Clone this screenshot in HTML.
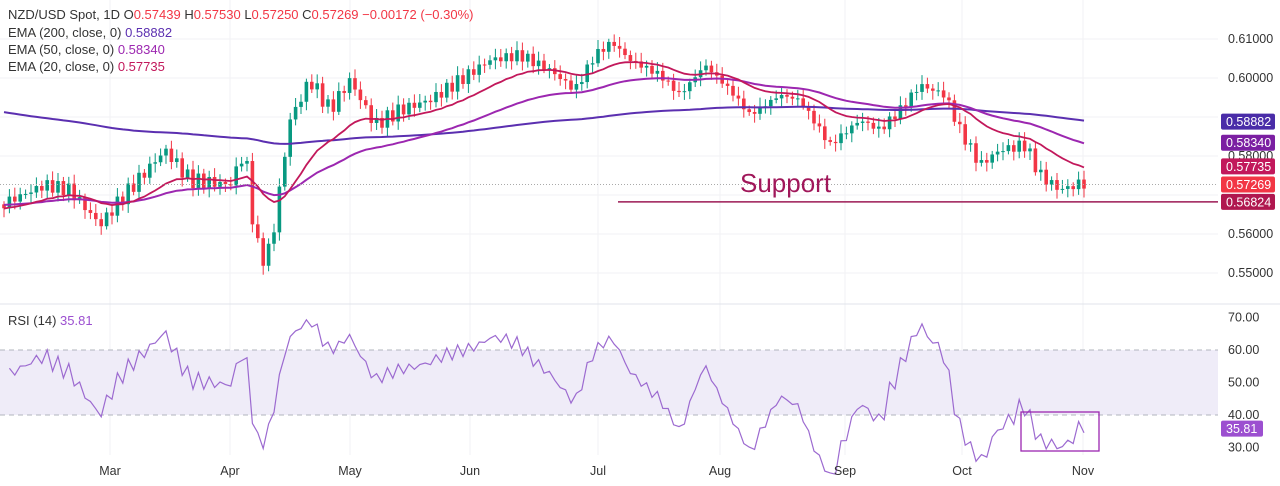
<!DOCTYPE html>
<html><head><meta charset="utf-8"><style>
body{margin:0;background:#fff;font-family:"Liberation Sans",sans-serif}
svg{display:block}
</style></head><body>
<svg id="c" width="1280" height="486" xmlns="http://www.w3.org/2000/svg" font-family="Liberation Sans, sans-serif"></svg>
<script>
const S=document.getElementById('c');let h='';
const py=p=>39+(0.61-p)*3900, ry=v=>350-(v-60)*3.25;
h+='<rect x="0" y="0" width="1280" height="486" fill="#fff"/>';
[0.61,0.60,0.59,0.58,0.57,0.56,0.55].forEach(p=>h+=`<line x1="0" x2="1218" y1="${py(p)}" y2="${py(p)}" stroke="#f2f2f4"/>`);
[110,230,350,470,598,720,845,962,1083].forEach(x=>h+=`<line x1="${x}" x2="${x}" y1="0" y2="455" stroke="#f2f2f4"/>`);
h+='<line x1="0" x2="1280" y1="304" y2="304" stroke="#e0e3eb"/>';
h+=`<rect x="0" y="${ry(60)}" width="1218" height="${ry(40)-ry(60)}" fill="#efecf8"/>`;
h+=`<line x1="0" x2="1218" y1="${ry(60)}" y2="${ry(60)}" stroke="#b2b5be" stroke-dasharray="5,4"/>`;
h+=`<line x1="0" x2="1218" y1="${ry(40)}" y2="${ry(40)}" stroke="#b2b5be" stroke-dasharray="5,4"/>`;
const K=[[0,205],[45,185],[70,190],[100,225],[120,200],[165,150],[190,180],[230,185],[245,150],[255,240],[265,262],[272,240],[290,120],[310,80],[330,110],[350,80],[375,125],[400,110],[430,100],[460,80],[490,60],[520,55],[550,70],[575,90],[595,55],[612,42],[630,60],[660,75],[680,95],[705,65],[730,90],[750,115],[780,95],[800,100],[830,145],[860,120],[880,130],[900,110],[920,85],[945,95],[960,130],[980,165],[1000,150],[1025,145],[1040,175],[1060,190],[1086,182]];
function ky(x){for(let i=0;i<K.length-1;i++){if(x<=K[i+1][0]){const t=(x-K[i][0])/(K[i+1][0]-K[i][0]);return K[i][1]+t*(K[i+1][1]-K[i][1]);}}return K[K.length-1][1];}
const yp=y=>0.61-(y-39)/3900;
let closes=[],xs=[];
for(let x=4;x<=1086;x+=5.4){xs.push(x);closes.push(yp(ky(x)+Math.sin(x*1.7)*5+Math.sin(x*0.53)*3));}
let prev=closes[0]+0.001,cand='';
closes.forEach((c,i)=>{const o=prev;const x=xs[i];const hi=Math.max(o,c)+0.0008+Math.abs(Math.sin(i*2.3))*0.0015;const lo=Math.min(o,c)-0.0008-Math.abs(Math.cos(i*1.9))*0.0015;const col=c>=o?'#089981':'#f23645';
cand+=`<line x1="${x}" x2="${x}" y1="${py(hi)}" y2="${py(lo)}" stroke="${col}"/>`;
const t=Math.min(py(o),py(c)),bh=Math.max(1,Math.abs(py(o)-py(c)));cand+=`<rect x="${x-1.8}" y="${t}" width="3.6" height="${bh}" fill="${col}"/>`;prev=c;});
h+=cand;
function ema(n,init){let e=init,a=2/(n+1),pts=[];closes.forEach((c,i)=>{e=e+a*(c-e);pts.push(xs[i]+','+py(e).toFixed(1));});return pts.join(' ');}
h+=`<polyline fill="none" stroke="#5b2fb0" stroke-width="2" points="${ema(200,0.5915)}"/>`;
h+=`<polyline fill="none" stroke="#9c27b0" stroke-width="2" points="${ema(50,0.5675)}"/>`;
h+=`<polyline fill="none" stroke="#c2185b" stroke-width="1.8" points="${ema(20,0.5665)}"/>`;
h+=`<line x1="0" x2="1218" y1="${py(0.57269)}" y2="${py(0.57269)}" stroke="#aaa" stroke-dasharray="1,2"/>`;
h+=`<line x1="618" x2="1218" y1="${py(0.56824)}" y2="${py(0.56824)}" stroke="#9c1a55" stroke-width="1.5"/>`;
h+=`<text x="740" y="192" font-size="26" fill="#a0175a">Support</text>`;
let ag=0.0012,al=0.0012,rp=[];for(let i=1;i<closes.length;i++){const d=closes[i]-closes[i-1];ag=(ag*13+Math.max(d,0))/14;al=(al*13+Math.max(-d,0))/14;const r=100-100/(1+ag/al);rp.push(xs[i]+','+ry(r).toFixed(1));}
h+=`<polyline fill="none" stroke="#9c6ad0" stroke-width="1.2" points="${rp.join(' ')}"/>`;
h+=`<rect x="1021" y="412" width="78" height="39" fill="none" stroke="#9c27b0" stroke-width="1.3"/>`;
[0.61,0.60,0.56,0.55].forEach(p=>h+=`<text x="1228" y="${py(p)+4}" font-size="12.5" fill="#333">${p.toFixed(5)}</text>`);
h+=`<text x="1228" y="${py(0.58)+4}" font-size="12.5" fill="#333">0.58000</text>`;
[[0.58882,'#4a2ca8'],[0.5834,'#7b1fa2'],[0.57735,'#c2185b'],[0.57269,'#f23645'],[0.56824,'#b0174f']].forEach(([p,c])=>{const y=py(p);h+=`<rect x="1221" y="${y-8}" width="54" height="16" rx="2" fill="${c}"/><text x="1226" y="${y+4.5}" font-size="12.5" fill="#fff">${p.toFixed(5)}</text>`;});
[70,60,50,40,30].forEach(v=>h+=`<text x="1228" y="${ry(v)+4}" font-size="12.5" fill="#333">${v}.00</text>`);
h+=`<rect x="1221" y="${ry(35.81)-8}" width="42" height="16" rx="2" fill="#9c4fd0"/><text x="1226" y="${ry(35.81)+4.5}" font-size="12.5" fill="#fff">35.81</text>`;
[['Mar',110],['Apr',230],['May',350],['Jun',470],['Jul',598],['Aug',720],['Sep',845],['Oct',962],['Nov',1083]].forEach(([m,x])=>h+=`<text x="${x}" y="475" font-size="12.5" fill="#333" text-anchor="middle">${m}</text>`);
h+=`<text x="8" y="19" font-size="13" fill="#333">NZD/USD Spot, 1D  O<tspan fill="#f23645">0.57439</tspan>  H<tspan fill="#f23645">0.57530</tspan>  L<tspan fill="#f23645">0.57250</tspan>  C<tspan fill="#f23645">0.57269</tspan>  <tspan fill="#f23645">−0.00172 (−0.30%)</tspan></text>`;
h+=`<text x="8" y="37" font-size="13" fill="#333">EMA (200, close, 0)  <tspan fill="#5b2fb0">0.58882</tspan></text>`;
h+=`<text x="8" y="54" font-size="13" fill="#333">EMA (50, close, 0)  <tspan fill="#9c27b0">0.58340</tspan></text>`;
h+=`<text x="8" y="71" font-size="13" fill="#333">EMA (20, close, 0)  <tspan fill="#c2185b">0.57735</tspan></text>`;
h+=`<text x="8" y="325" font-size="13" fill="#333">RSI (14)  <tspan fill="#9c4fd0">35.81</tspan></text>`;
S.innerHTML=h;
</script>
</body></html>
